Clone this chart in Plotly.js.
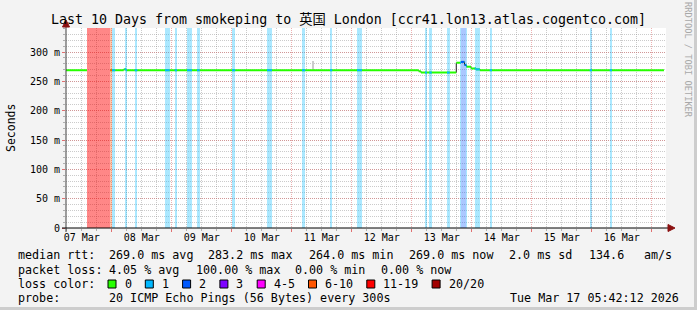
<!DOCTYPE html>
<html><head><meta charset="utf-8">
<script src="https://cdn.plot.ly/plotly-3.0.1.min.js"></script>
<style>
html,body{margin:0;padding:0;background:#f3f3f3;}
#wrap{position:relative;width:697px;height:310px;overflow:hidden;}
#chart{position:absolute;left:0;top:0;width:697px;height:310px;}
.edge{position:absolute;background:#cdcdcd;pointer-events:none;}
</style></head><body>
<div id="wrap"><div id="chart"></div>
<div class="edge" style="right:0;top:0;width:3px;height:310px"></div>
<div class="edge" style="left:0;bottom:0;width:697px;height:3px"></div>
</div>
<script>
// ---------- data ----------
const titleText = 'Last 10 Days from smokeping to 英国 London [ccr41.lon13.atlas.cogentco.com]';
const startTime = '2026-03-07 05:42:12';
const endTime   = '2026-03-17 05:42:12';
const yTickVals = [0, 0.05, 0.10, 0.15, 0.20, 0.25, 0.30];
const yTickText = ['0', '50 m', '100 m', '150 m', '200 m', '250 m', '300 m'];

// median rtt (seconds): value holds from its time until the next time; null = no data
const medianTimes = ['2026-03-07 05:42','2026-03-07 14:06','2026-03-07 23:25','2026-03-08 04:48','2026-03-08 05:42',
  '2026-03-13 02:47','2026-03-13 03:42','2026-03-13 17:49','2026-03-13 19:42','2026-03-13 21:06','2026-03-13 21:54',
  '2026-03-13 23:42','2026-03-14 01:42','2026-03-14 03:18','2026-03-17 04:54'];
const medianValues = [0.269, null, 0.269, 0.2705, 0.269,
  0.2672, 0.2650, 0.2818, 0.2832, 0.2780, 0.2750,
  0.2720, 0.2705, 0.2690, null];

// packet loss background bands (level = index into lossLabels)
const lossStart = ['2026-03-07 14:06','2026-03-07 23:25','2026-03-08 00:06','2026-03-08 05:11','2026-03-08 09:11',
  '2026-03-08 21:18','2026-03-09 01:11','2026-03-09 06:06','2026-03-09 10:06','2026-03-10 00:06','2026-03-10 14:06',
  '2026-03-11 04:06','2026-03-11 15:18','2026-03-12 02:06','2026-03-13 05:18','2026-03-13 07:01','2026-03-13 14:06',
  '2026-03-13 19:18','2026-03-13 19:42','2026-03-13 21:42','2026-03-14 01:11','2026-03-14 07:11','2026-03-15 23:11',
  '2026-03-16 07:11'];
const lossEnd = ['2026-03-07 23:25','2026-03-08 00:06','2026-03-08 01:25','2026-03-08 06:06','2026-03-08 10:13',
  '2026-03-08 23:11','2026-03-09 02:06','2026-03-09 08:06','2026-03-09 11:11','2026-03-10 01:25','2026-03-10 16:06',
  '2026-03-11 05:25','2026-03-11 16:13','2026-03-12 04:06','2026-03-13 06:06','2026-03-13 07:59','2026-03-13 15:11',
  '2026-03-13 19:42','2026-03-13 21:42','2026-03-13 22:06','2026-03-14 03:11','2026-03-14 08:06','2026-03-16 00:06',
  '2026-03-16 08:06'];
const lossLevel = [7,5,1,1,1, 1,1,1,1,1,1, 1,1,1,1,1,1, 1,2,1,1,1,1, 1];

// smoke (rtt spread)
const smokeStart = ['2026-03-11 08:06'];
const smokeEnd   = ['2026-03-11 09:06'];
const smokeLow   = [0.269];
const smokeHigh  = [0.2852];

const lossLabels = ['0','1','2','3','4-5','6-10','11-19','20/20'];
const lossColors = ['#26ff00','#00b8ff','#0059ff','#7e00ff','#ff00ff','#ff5500','#ff0000','#a10000'];
const lossBgColors = ['rgba(38,255,0,0.3)','rgba(0,184,255,0.33)','rgba(0,89,255,0.33)','rgba(126,0,255,0.33)',
  'rgba(255,0,255,0.33)','rgba(255,85,0,0.33)','rgba(255,0,0,0.33)','rgba(255,0,0,0.47)'];

const rttLabel = 'median rtt:';
const rttStats = ['269.0 ms avg','283.2 ms max','264.0 ms min','269.0 ms now','2.0 ms sd','134.6','am/s'];
const lossLabel = 'packet loss:';
const lossStats = ['4.05 % avg','100.00 % max','0.00 % min','0.00 % now'];
const probeText = '20 ICMP Echo Pings (56 Bytes) every 300s';
const stampText = 'Tue Mar 17 05:42:12 2026';

// ---------- helpers ----------
function toMs(s){const m=s.match(/(\d+)-(\d+)-(\d+) (\d+):(\d+)(?::(\d+))?/);return Date.UTC(+m[1],+m[2]-1,+m[3],+m[4],+m[5],+(m[6]||0));}
const L=66, W=600, T=28, H=200;
const px = x => (x-L)/W;
const py = y => (T+H-y)/H;
const yTop = 0.341;

const mt = medianTimes.map(toMs);
const traces = [];

// loss bands
for (let lv=0; lv<lossLabels.length; lv++){
  const xs=[],ws=[],ys=[];
  lossLevel.forEach((l,i)=>{ if(l!==lv) return; const a=toMs(lossStart[i]), b=toMs(lossEnd[i]); xs.push((a+b)/2); ws.push(b-a); ys.push(yTop); });
  if(!xs.length) continue;
  traces.push({type:'bar', x:xs, y:ys, width:ws, base:0, marker:{color:lossBgColors[lv], line:{width:0}}, hoverinfo:'skip'});
}
// smoke
traces.push({type:'bar', x:smokeStart.map((s,i)=>(toMs(s)+toMs(smokeEnd[i]))/2), width:smokeStart.map((s,i)=>toMs(smokeEnd[i])-toMs(s)),
  base:smokeLow, y:smokeHigh.map((h,i)=>h-smokeLow[i]), marker:{color:'#cccccc', line:{width:0}}, hoverinfo:'skip'});

// dark vertical connectors
const cx=[],cy=[];
for(let i=1;i<mt.length;i++){ if(medianValues[i-1]!==null && medianValues[i]!==null){ cx.push(mt[i],mt[i],null); cy.push(medianValues[i-1],medianValues[i],null);} }
traces.push({type:'scatter', mode:'lines', x:cx, y:cy, line:{color:'#202020', width:1}, hoverinfo:'skip'});

// green median segments
const gx=[],gy=[];
for(let i=0;i<mt.length-1;i++){ const v=medianValues[i]; if(v===null) continue; gx.push(mt[i],mt[i+1],null); gy.push(v,v,null); }
traces.push({type:'scatter', mode:'lines', x:gx, y:gy, line:{color:lossColors[0], width:2}, hoverinfo:'skip'});

// loss-coloured median segments
for (let lv=1; lv<lossLabels.length; lv++){
  const xs=[],ys=[];
  lossLevel.forEach((l,k)=>{ if(l!==lv) return; const a=toMs(lossStart[k]), b=toMs(lossEnd[k]);
    for(let i=0;i<mt.length-1;i++){ const v=medianValues[i]; if(v===null) continue;
      const s=Math.max(a,mt[i]), e=Math.min(b,mt[i+1]); if(e>s){ xs.push(s,e,null); ys.push(v,v,null);} } });
  if(xs.length) traces.push({type:'scatter', mode:'lines', x:xs, y:ys, line:{color:lossColors[lv], width:2}, hoverinfo:'skip'});
}
// dummy for label axis
traces.push({type:'scatter', mode:'markers', x:[toMs(startTime)], y:[null], xaxis:'x2', yaxis:'y', hoverinfo:'skip'});

// ---------- decorations ----------
const mono = 'DejaVu Sans Mono, monospace';
const legFont = {family:mono, size:11.7, color:'#000'};
const ann = [];
function txt(x,y,t,anchor){ ann.push({xref:'paper',yref:'paper',x:px(x),y:py(y),text:t,showarrow:false,xanchor:anchor||'left',yanchor:'middle',font:legFont}); }
const rttX=[107,206,307,407,507,587,642];
txt(16,255,rttLabel); rttStats.forEach((s,i)=>txt(rttX[i],255,s));
const lossX=[107,194,293,379];
txt(16,270,lossLabel); lossStats.forEach((s,i)=>txt(lossX[i],270,s));
txt(16,284,'loss color:');
txt(16,298,'probe:'); txt(107,298,probeText); txt(681,298,stampText,'right');

const shapes = [];
let sx = 108;
lossLabels.forEach((lab,i)=>{
  shapes.push({type:'rect', xref:'paper', yref:'paper', x0:px(sx), x1:px(sx+8), y0:py(288), y1:py(280), fillcolor:lossColors[i], line:{color:'#000', width:1}, layer:'above'});
  txt(sx+14.5,284,lab);
  sx += 30.3 + 7*lab.length;
});
// axis lines and arrows
shapes.push({type:'line', xref:'paper', yref:'paper', x0:0, x1:0, y0:py(232), y1:py(22), line:{color:'#404040', width:1}, layer:'above'});
shapes.push({type:'line', xref:'paper', yref:'paper', x0:px(62), x1:px(670), y0:0, y1:0, line:{color:'#000', width:1}, layer:'above'});
shapes.push({type:'path', xref:'paper', yref:'paper', path:`M ${px(62.5)} ${py(27)} L ${px(66)} ${py(20)} L ${px(69.5)} ${py(27)} Z`, fillcolor:'#8b1010', line:{color:'#8b1010', width:1}, layer:'above'});
shapes.push({type:'path', xref:'paper', yref:'paper', path:`M ${px(668)} ${py(224.5)} L ${px(675)} ${py(228)} L ${px(668)} ${py(231.5)} Z`, fillcolor:'#8b1010', line:{color:'#8b1010', width:1}, layer:'above'});

ann.push({xref:'paper',yref:'paper',x:px(11),y:py(128),text:'Seconds',textangle:-90,showarrow:false,xanchor:'center',yanchor:'middle',font:{family:mono,size:11.5,color:'#000'}});
ann.push({xref:'paper',yref:'paper',x:px(688),y:py(60),text:'RRDTOOL / TOBI OETIKER',textangle:90,showarrow:false,xanchor:'center',yanchor:'middle',font:{family:mono,size:8.7,color:'#a8a8a8'}});

const redGrid='rgba(215,100,100,0.5)', grayGrid='rgba(140,140,140,0.45)';
const layout = {
  width:697, height:310,
  margin:{l:L, r:697-L-W, t:T, b:310-T-H, pad:0},
  paper_bgcolor:'#f3f3f3', plot_bgcolor:'#ffffff',
  showlegend:false, barmode:'overlay', bargap:0,
  font:{family:mono, size:10, color:'#000'},
  title:{text:titleText, font:{family:"DejaVu Sans Mono, 'Noto Sans CJK SC', monospace", size:13.3, color:'#000'},
    x:0.5, xref:'container', xanchor:'center', y:1-19/310, yref:'container', yanchor:'middle'},
  xaxis:{type:'date', range:[startTime,endTime], tick0:'2026-03-08 00:00', dtick:86400000, showticklabels:false,
    showgrid:true, gridcolor:redGrid, griddash:'1px,1px', gridwidth:1, ticks:'outside', ticklen:3, tickcolor:'#e07070',
    showline:false, zeroline:false, fixedrange:true,
    minor:{tick0:'2026-03-07 00:00', dtick:21600000, showgrid:true, gridcolor:grayGrid, griddash:'1px,1px', gridwidth:1,
      ticks:'outside', ticklen:2, tickcolor:'#b0b0b0'}},
  xaxis2:{type:'date', overlaying:'x', anchor:'y', side:'bottom', range:[startTime,endTime], tick0:'2026-03-07 12:00',
    dtick:86400000, tickformat:'%d %b', showgrid:false, ticks:'', showline:false, zeroline:false, fixedrange:true,
    ticklabelstandoff:2, tickfont:{family:mono, size:10, color:'#000'}},
  yaxis:{range:[0,yTop], tickvals:yTickVals, ticktext:yTickText, showgrid:true, gridcolor:redGrid, griddash:'1px,1px',
    ticks:'outside', ticklen:3, tickcolor:'#e07070', zeroline:false, showline:false, fixedrange:true,
    tickfont:{family:mono, size:10, color:'#000'},
    minor:{tick0:0, dtick:0.01, showgrid:true, gridcolor:grayGrid, griddash:'1px,1px', ticks:'outside', ticklen:2, tickcolor:'#b0b0b0'}},
  shapes:shapes, annotations:ann
};
Plotly.newPlot('chart', traces, layout, {displayModeBar:false, staticPlot:true});
</script></body></html>
